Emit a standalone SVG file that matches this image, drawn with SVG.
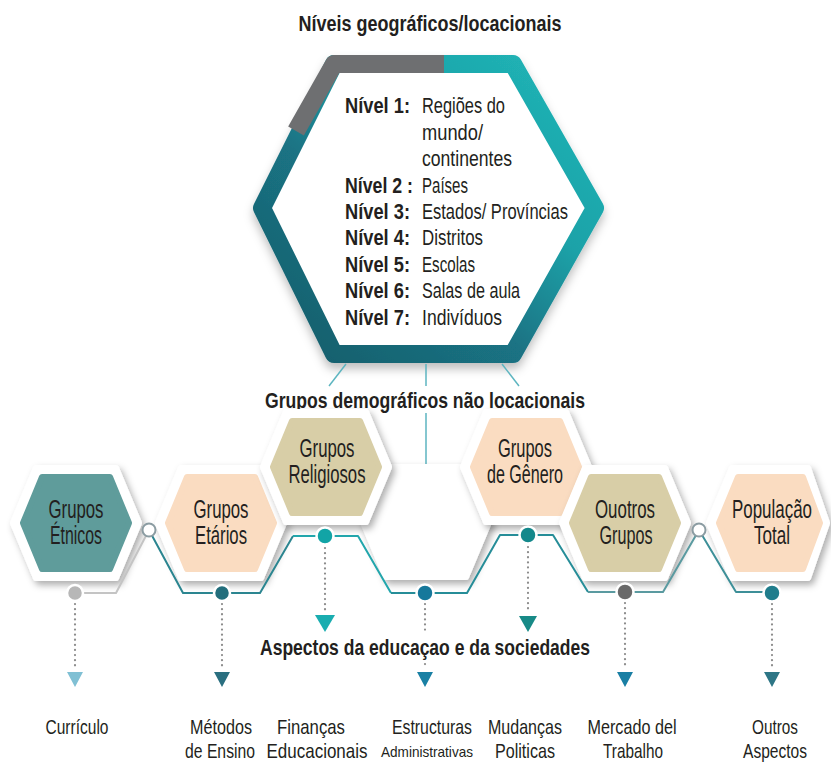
<svg xmlns="http://www.w3.org/2000/svg" width="831" height="763" viewBox="0 0 831 763">
<defs>
<linearGradient id="hexg" x1="1" y1="0" x2="0" y2="1">
<stop offset="0" stop-color="#22b7b8"/>
<stop offset="0.35" stop-color="#1ba2a8"/>
<stop offset="0.6" stop-color="#1a7384"/>
<stop offset="1" stop-color="#175c68"/>
</linearGradient>
<filter id="sh" x="-30%" y="-30%" width="160%" height="160%">
<feDropShadow dx="3" dy="4" stdDeviation="3.5" flood-color="#000" flood-opacity="0.32"/>
</filter>
<filter id="bigsh" x="-20%" y="-20%" width="140%" height="140%">
<feDropShadow dx="0" dy="6" stdDeviation="5" flood-color="#000" flood-opacity="0.25"/>
</filter>
<style>
.t{font-family:"Liberation Sans",Arial,sans-serif;fill:#231f20;}
.b{font-weight:bold;}
.h1{font-size:22px;font-weight:bold;}
.lv{font-size:22px;}
.nd{font-size:25px;text-anchor:middle;}
.lb{font-size:21px;text-anchor:middle;}
.plate{fill:#fff;stroke:#fff;stroke-width:6;stroke-linejoin:round;filter:url(#sh);}
.teal{fill:#5f9c9b;stroke:#5f9c9b;stroke-width:6;stroke-linejoin:round;}
.peach{fill:#fadcc1;stroke:#fadcc1;stroke-width:6;stroke-linejoin:round;}
.khaki{fill:#d8cea7;stroke:#d8cea7;stroke-width:6;stroke-linejoin:round;}
.ln{fill:none;stroke-width:2;stroke-linejoin:round;}
.dot{stroke:#fff;stroke-width:2.5;}
.dl{stroke:#8c8c8c;stroke-width:2.2;stroke-linecap:round;stroke-dasharray:0.1 5;fill:none;}
.thin{stroke:#5db5c0;stroke-width:1.5;fill:none;}
</style>
</defs>
<rect width="831" height="763" fill="#ffffff"/>

<text class="t h1" x="430" y="31" text-anchor="middle" textLength="263" lengthAdjust="spacingAndGlyphs">Níveis geográficos/locacionais</text>

<g id="levels">
<path d="M334,64 L513,64 L595,208 L513,354 L334,354 L262,208 Z" fill="#fff" stroke="url(#hexg)" stroke-width="18" stroke-linejoin="round" filter="url(#bigsh)"/>
<path d="M296,131 L334,64 L444,64" fill="none" stroke="#6e6f71" stroke-width="18" stroke-linejoin="round"/>
<g class="t lv">
<text class="b" x="345" y="113" textLength="65" lengthAdjust="spacingAndGlyphs">Nível 1:</text>
<text x="422" y="113" textLength="83" lengthAdjust="spacingAndGlyphs">Regiões do</text>
<text x="422" y="140" textLength="61" lengthAdjust="spacingAndGlyphs">mundo/</text>
<text x="422" y="166" textLength="90" lengthAdjust="spacingAndGlyphs">continentes</text>
<text class="b" x="345" y="193" textLength="68" lengthAdjust="spacingAndGlyphs">Nível 2 :</text>
<text x="422" y="193" textLength="46" lengthAdjust="spacingAndGlyphs">Países</text>
<text class="b" x="345" y="219" textLength="65" lengthAdjust="spacingAndGlyphs">Nível 3:</text>
<text x="422" y="219" textLength="146" lengthAdjust="spacingAndGlyphs">Estados/ Províncias</text>
<text class="b" x="345" y="245" textLength="65" lengthAdjust="spacingAndGlyphs">Nível 4:</text>
<text x="422" y="245" textLength="61" lengthAdjust="spacingAndGlyphs">Distritos</text>
<text class="b" x="345" y="272" textLength="65" lengthAdjust="spacingAndGlyphs">Nível 5:</text>
<text x="422" y="272" textLength="53" lengthAdjust="spacingAndGlyphs">Escolas</text>
<text class="b" x="345" y="298" textLength="65" lengthAdjust="spacingAndGlyphs">Nível 6:</text>
<text x="422" y="298" textLength="98" lengthAdjust="spacingAndGlyphs">Salas de aula</text>
<text class="b" x="345" y="325" textLength="65" lengthAdjust="spacingAndGlyphs">Nível 7:</text>
<text x="422" y="325" textLength="80" lengthAdjust="spacingAndGlyphs">Indivíduos</text>
</g>
</g>

<text class="t h1" x="425" y="408" text-anchor="middle" textLength="320" lengthAdjust="spacingAndGlyphs">Grupos demográficos não locacionais</text>

<g id="connectors">
<path class="thin" d="M346,364 L329,386"/>
<path class="thin" d="M426,364 L426,386"/>
<path class="thin" d="M426,413 L426,466"/>
<path class="thin" d="M502,364 L519,386"/>
</g>

<g id="etnicos">
<path class="plate" d="M36,468 L116,468 L139,523 L116,578 L36,578 L13,523 Z"/>
<path class="teal" d="M42,477 L110,477 L129,523 L110,569 L42,569 L23,523 Z"/>
<text class="t nd" x="76" y="518" textLength="55" lengthAdjust="spacingAndGlyphs">Grupos</text>
<text class="t nd" x="76" y="544" textLength="52" lengthAdjust="spacingAndGlyphs">Étnicos</text>
</g>
<g id="etarios">
<path class="plate" d="M181,468 L261,468 L284,523 L261,578 L181,578 L158,523 Z"/>
<path class="peach" d="M187,477 L255,477 L274,523 L255,569 L187,569 L168,523 Z"/>
<text class="t nd" x="221" y="518" textLength="55" lengthAdjust="spacingAndGlyphs">Grupos</text>
<text class="t nd" x="221" y="544" textLength="52" lengthAdjust="spacingAndGlyphs">Etários</text>
</g>
<g id="vazio">
<path class="plate" d="M386,467 L466,467 L489,522 L466,577 L386,577 L363,522 Z"/>
</g>
<g id="religiosos">
<path class="plate" d="M286,412 L366,412 L389,467 L366,522 L286,522 L263,467 Z"/>
<path class="khaki" d="M292,421 L360,421 L379,467 L360,513 L292,513 L273,467 Z"/>
<text class="t nd" x="327" y="457" textLength="55" lengthAdjust="spacingAndGlyphs">Grupos</text>
<text class="t nd" x="327" y="483" textLength="77" lengthAdjust="spacingAndGlyphs">Religiosos</text>
</g>
<g id="genero">
<path class="plate" d="M486,412 L566,412 L589,467 L566,522 L486,522 L463,467 Z"/>
<path class="peach" d="M492,421 L560,421 L579,467 L560,513 L492,513 L473,467 Z"/>
<text class="t nd" x="525" y="457" textLength="54" lengthAdjust="spacingAndGlyphs">Grupos</text>
<text class="t nd" x="525" y="483" textLength="76" lengthAdjust="spacingAndGlyphs">de Gênero</text>
</g>
<g id="outros-grupos">
<path class="plate" d="M585,468 L665,468 L688,523 L665,578 L585,578 L562,523 Z"/>
<path class="khaki" d="M591,477 L659,477 L678,523 L659,569 L591,569 L572,523 Z"/>
<text class="t nd" x="625" y="518" textLength="60" lengthAdjust="spacingAndGlyphs">Ouotros</text>
<text class="t nd" x="626" y="544" textLength="53" lengthAdjust="spacingAndGlyphs">Grupos</text>
</g>
<g id="populacao">
<path class="plate" d="M732,468 L808,468 L827,523 L808,578 L732,578 L709,523 Z"/>
<path class="peach" d="M738,477 L803,477 L820,523 L803,569 L738,569 L719,523 Z"/>
<text class="t nd" x="772" y="518" textLength="80" lengthAdjust="spacingAndGlyphs">População</text>
<text class="t nd" x="772" y="544" textLength="36" lengthAdjust="spacingAndGlyphs">Total</text>
</g>

<g id="flow">
<path class="ln" stroke="#c4c4c4" d="M75,593 L116,593 L149,530"/>
<path class="ln" stroke="#2b8590" d="M149,530 L183,593 L260,593 L293,536"/>
<path class="ln" stroke="#22a6ac" d="M293,536 L358,536 L391,593"/>
<path class="ln" stroke="#268d98" d="M391,593 L467,593 L500,535 L553,535 L588,592"/>
<path class="ln" stroke="#5a9aa0" d="M588,592 L663,592 L699,530"/>
<path class="ln" stroke="#3d8f98" d="M699,530 L736,592 L772,592"/>
<circle cx="149" cy="530" r="6.5" fill="#fff" stroke="#8b9ca2" stroke-width="2"/>
<circle cx="699" cy="530" r="6.5" fill="#fff" stroke="#8b9ca2" stroke-width="2"/>
<circle class="dot" cx="75" cy="593" r="8" fill="#b7b7b7"/>
<circle class="dot" cx="222" cy="593" r="8" fill="#236e7c"/>
<circle class="dot" cx="325" cy="536" r="8.5" fill="#12a4a6"/>
<circle class="dot" cx="425" cy="593" r="8.5" fill="#16789b"/>
<circle class="dot" cx="528" cy="535" r="8.5" fill="#13888b"/>
<circle class="dot" cx="625" cy="592" r="8.5" fill="#6a6a6a"/>
<circle class="dot" cx="772" cy="593" r="8.5" fill="#207d8c"/>
<path class="dl" d="M75,604 L75,668"/>
<path class="dl" d="M222,604 L222,668"/>
<path class="dl" d="M325,548 L325,612"/>
<path class="dl" d="M425,604 L425,634"/>
<path class="dl" d="M425,664 L425,668"/>
<path class="dl" d="M528,547 L528,612"/>
<path class="dl" d="M625,603 L625,668"/>
<path class="dl" d="M772,604 L772,668"/>
<path d="M67,672 L83,672 L75,687 Z" fill="#80c0d4"/>
<path d="M214,672 L230,672 L222,687 Z" fill="#2a6f80"/>
<path d="M315,615 L335,615 L325,632 Z" fill="#1aadb0"/>
<path d="M417,672 L433,672 L425,687 Z" fill="#1a80a4"/>
<path d="M519,616 L537,616 L528,632 Z" fill="#188a87"/>
<path d="M617,672 L633,672 L625,687 Z" fill="#1a7fa4"/>
<path d="M764,672 L780,672 L772,687 Z" fill="#2e7686"/>
</g>

<text class="t h1" x="425" y="655" text-anchor="middle" textLength="330" lengthAdjust="spacingAndGlyphs">Aspectos da educaçao e da sociedades</text>

<g id="aspectos">
<text class="t lb" x="77" y="734" textLength="63" lengthAdjust="spacingAndGlyphs">Currículo</text>
<text class="t lb" x="221" y="734" textLength="62" lengthAdjust="spacingAndGlyphs">Métodos</text>
<text class="t lb" x="220" y="758" textLength="70" lengthAdjust="spacingAndGlyphs">de Ensino</text>
<text class="t lb" x="311" y="734" textLength="68" lengthAdjust="spacingAndGlyphs">Finanças</text>
<text class="t lb" x="317" y="758" textLength="101" lengthAdjust="spacingAndGlyphs">Educacionais</text>
<text class="t lb" x="432" y="734" textLength="80" lengthAdjust="spacingAndGlyphs">Estructuras</text>
<text class="t lb" x="427" y="757" style="font-size:15px" textLength="92" lengthAdjust="spacingAndGlyphs">Administrativas</text>
<text class="t lb" x="525" y="734" textLength="74" lengthAdjust="spacingAndGlyphs">Mudanças</text>
<text class="t lb" x="525" y="758" textLength="60" lengthAdjust="spacingAndGlyphs">Politicas</text>
<text class="t lb" x="632" y="734" textLength="89" lengthAdjust="spacingAndGlyphs">Mercado del</text>
<text class="t lb" x="633" y="758" textLength="60" lengthAdjust="spacingAndGlyphs">Trabalho</text>
<text class="t lb" x="775" y="734" textLength="46" lengthAdjust="spacingAndGlyphs">Outros</text>
<text class="t lb" x="775" y="758" textLength="64" lengthAdjust="spacingAndGlyphs">Aspectos</text>
</g>
</svg>
